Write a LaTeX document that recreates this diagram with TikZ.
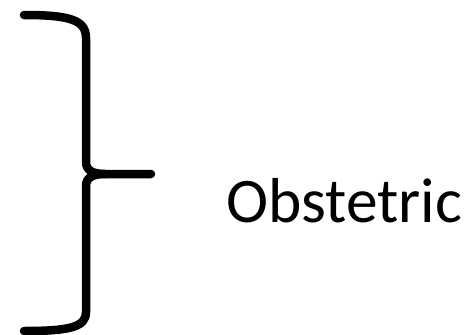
\documentclass[tikz,border=0pt]{standalone}
\usepackage{fontspec}
\setmainfont{Carlito}
\begin{document}
\begin{tikzpicture}[x=1pt,y=-1pt,
  bracestyle/.style={line width=8.5pt, line cap=round, line join=round}]
\useasboundingbox (0,0) rectangle (464,335);
\draw[bracestyle] (24,15) .. controls (70,15) and (86,20) .. (86,38) -- (86,162)
  .. controls (86,170) and (92,174) .. (105,174) -- (151,174);
\draw[bracestyle] (105,174) .. controls (92,174) and (86,178) .. (86,186) -- (86,312)
  .. controls (86,327) and (70,331) .. (24,331);
\node[anchor=base west, inner sep=0pt, font=\fontsize{63.5}{72}\selectfont] (label) at (226,222) {Obstetric};
\end{tikzpicture}
\end{document}
